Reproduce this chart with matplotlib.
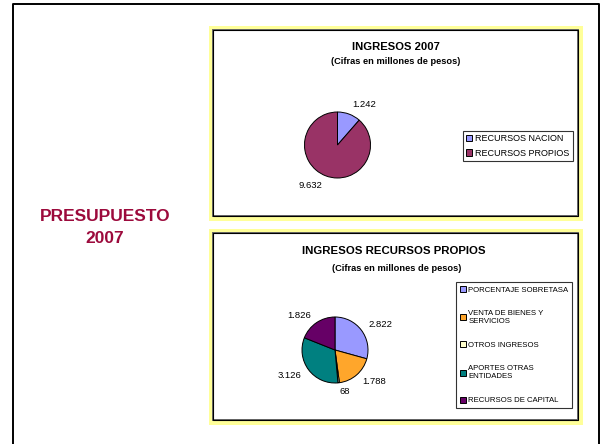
import matplotlib
matplotlib.use('Agg')
import matplotlib.pyplot as plt
from matplotlib.patches import Rectangle

plt.rcParams['font.family'] = ['Liberation Sans', 'DejaVu Sans']

# data
ingresos_labels = ['RECURSOS NACION', 'RECURSOS PROPIOS']
ingresos_values = [1242, 9632]
ingresos_colors = ['#9999FF', '#993366']

propios_labels = ['PORCENTAJE SOBRETASA', 'VENTA DE BIENES Y\nSERVICIOS', 'OTROS INGRESOS',
                  'APORTES OTRAS\nENTIDADES', 'RECURSOS DE CAPITAL']
propios_values = [2822, 1788, 68, 3126, 1826]
propios_colors = ['#9999FF', '#FFA62B', '#FFFFCC', '#008080', '#660066']

W, H = 602, 444
fig = plt.figure(figsize=(W / 100, H / 100), dpi=100)
fig.patch.set_facecolor('white')

# background axes in pixel coords
bg = fig.add_axes([0, 0, 1, 1])
bg.set_xlim(0, W)
bg.set_ylim(H, 0)
bg.axis('off')

# outer slide frame
bg.plot([13, 13, 599, 599], [446, 4, 4, 446], color='black', lw=1.4)


def panel(y0, y1):
    bg.add_patch(Rectangle((209, y0 - 4), 374, (y1 - y0) + 9, facecolor='#FFFF99', edgecolor='none'))
    bg.add_patch(Rectangle((213, y0), 365, y1 - y0, facecolor='white', edgecolor='#666666', lw=1.4))
    bg.add_patch(Rectangle((213, y0), 365, y1 - y0, facecolor='none', edgecolor='black', lw=0.8))


panel(30, 216)
panel(233, 420)

bg.text(105, 216, 'PRESUPUESTO', color='#9C0A3C', fontsize=12.5, fontweight='bold', ha='center', va='center')
bg.text(105, 238, '2007', color='#9C0A3C', fontsize=12.5, fontweight='bold', ha='center', va='center')

bg.text(396, 47.5, 'INGRESOS 2007', fontsize=8.1, fontweight='bold', ha='center', va='center')
bg.text(396, 61.5, '(Cifras en millones de pesos)', fontsize=6.7, fontweight='bold', ha='center', va='center')
bg.text(394, 251, 'INGRESOS RECURSOS PROPIOS', fontsize=8.2, fontweight='bold', ha='center', va='center')
bg.text(397, 268, '(Cifras en millones de pesos)', fontsize=6.7, fontweight='bold', ha='center', va='center')


def fmt(v):
    return '{:,}'.format(v).replace(',', '.')


def pie_axes(cx, cy, r):
    ax = fig.add_axes([(cx - r) / W, 1 - (cy + r) / H, 2 * r / W, 2 * r / H])
    return ax


ax1 = pie_axes(337.5, 145, 33)
w1, t1 = ax1.pie(ingresos_values, colors=ingresos_colors, startangle=90, counterclock=False,
                 labels=[fmt(v) for v in ingresos_values], labeldistance=1.3,
                 wedgeprops=dict(edgecolor='black', linewidth=0.7),
                 textprops=dict(fontsize=6.8))
ax1.set_xlim(-1, 1)
ax1.set_ylim(-1, 1)
ax1.set_aspect('equal')
leg1 = ax1.legend(w1, ingresos_labels, loc='upper left', bbox_to_anchor=(463 / W, 1 - 131 / H),
                  bbox_transform=fig.transFigure, fontsize=6.5, frameon=True, fancybox=False,
                  edgecolor='black', handlelength=0.7, handleheight=0.7, handletextpad=0.3,
                  borderpad=0.35, labelspacing=0.6, borderaxespad=0)
leg1.get_frame().set_linewidth(0.8)

ax2 = pie_axes(335, 350, 33)
w2, t2 = ax2.pie(propios_values, colors=propios_colors, startangle=90, counterclock=False,
                 labels=[fmt(v) for v in propios_values], labeldistance=1.28,
                 wedgeprops=dict(edgecolor='black', linewidth=0.7),
                 textprops=dict(fontsize=6.8))
ax2.set_xlim(-1, 1)
ax2.set_ylim(-1, 1)
ax2.set_aspect('equal')
leg2 = ax2.legend(w2, propios_labels, loc='upper left', bbox_to_anchor=(456 / W, 1 - 282 / H),
                  bbox_transform=fig.transFigure, fontsize=5.6, frameon=True, fancybox=False,
                  edgecolor='black', handlelength=0.8, handleheight=0.8, handletextpad=0.3,
                  borderpad=0.5, labelspacing=2.1, borderaxespad=0)
leg2.get_frame().set_linewidth(0.8)

fig.savefig('out.png', dpi=100, facecolor='white')
